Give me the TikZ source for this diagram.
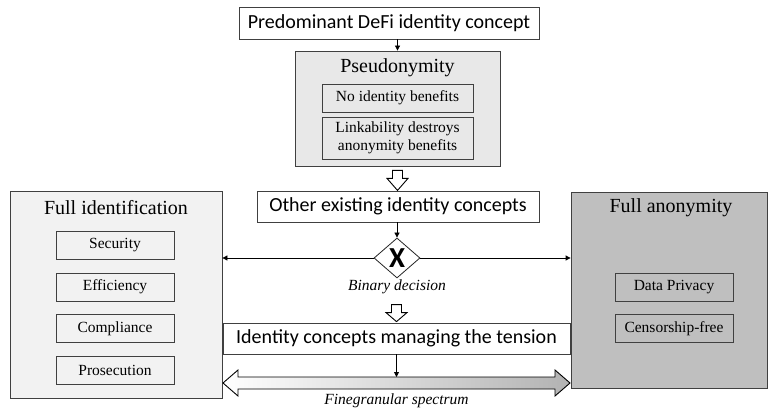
\documentclass[tikz,border=0pt]{standalone}
\usepackage{fontspec}
\setmainfont{Liberation Serif}
\newfontfamily\calibri{Carlito}
\usetikzlibrary{arrows.meta,positioning,shapes.geometric,calc}

\begin{document}
\begin{tikzpicture}[x=1pt, y=-1pt,
  concept/.style={draw=black!75, line width=0.8pt, fill=white, inner sep=0pt, font=\calibri\fontsize{20}{22}\selectfont},
  panel/.style={draw=black!75, line width=0.8pt, inner sep=0pt},
  item/.style={draw=black!75, line width=0.8pt, inner sep=0pt, minimum width=118pt, minimum height=28pt, align=center, font=\fontsize{15.5}{18}\selectfont},
  paneltitle/.style={font=\fontsize{20}{22}\selectfont},
  note/.style={font=\itshape\fontsize{15.5}{17}\selectfont},
  link/.style={-{Triangle[length=5pt,width=5pt]}, line width=0.8pt},
  hollow/.style={draw=black, line width=0.9pt, fill=white, line join=miter}
]
  \useasboundingbox (0,0) rectangle (768,411);

  % Side panels
  \node[panel, fill=black!5, minimum width=212pt, minimum height=207pt] (fullid) at (116,294.5) {};
  \node[paneltitle] (fullidtitle) at (116,208) {Full identification};
  \node[item] (security) at (115,245) {Security};
  \node[item] (efficiency) at (115,287) {Efficiency};
  \node[item] (compliance) at (115,328.5) {Compliance};
  \node[item] (prosecution) at (115,370) {Prosecution};

  \node[panel, fill=black!25, minimum width=196pt, minimum height=196pt] (fullanon) at (669,290) {};
  \node[paneltitle] (fullanontitle) at (671,208) {Full anonymity};
  \node[item, fill=black!25] (privacy) at (674,287) {Data Privacy};
  \node[item, fill=black!25] (censor) at (674,328.5) {Censorship-free};

  % Predominant concept
  \node[concept, minimum width=300pt, minimum height=32pt] (predom) at (389,23) {Predominant DeFi identity concept};
  \node[panel, fill=black!9, minimum width=205pt, minimum height=115pt] (pseudo) at (397.5,108.5) {};
  \node[paneltitle] (pseudotitle) at (397.5,68) {Pseudonymity};
  \node[item, minimum width=151pt] (nobenefit) at (397.5,98) {No identity benefits};
  \node[item, minimum width=151pt, minimum height=42pt] (linkable) at (397.5,138) {Linkability destroys\\anonymity benefits};

  % Other concepts and decision
  \node[concept, minimum width=282pt, minimum height=31pt] (other) at (398,206.5) {Other existing identity concepts};
  \node[diamond, draw=black!85, fill=white, line width=0.8pt, minimum width=46pt, minimum height=40pt, inner sep=0pt, font=\calibri\bfseries\fontsize{29}{30}\selectfont] (binary) at (397,258) {X};
  \node[note] (binarylabel) at (397,287) {Binary decision};

  \node[concept, minimum width=347pt, minimum height=31pt] (tension) at (396.5,338.5) {Identity concepts managing the tension};
  \node[note] (spectrumlabel) at (396.5,401) {Finegranular spectrum};

  % Connectors
  \draw[link] (pseudo.north |- predom.south) -- (pseudo.north);
  \draw[link] (other.south -| binary.north) -- (binary.north);
  \draw[link] (binary.west) -- (binary.west -| fullid.east);
  \draw[link] (binary.east) -- (binary.east -| fullanon.west);

  \draw[hollow] (pseudo.south) ++(-5,4) -- ++(10,0) -- ++(0,8) -- ++(5.5,0) -- ++(-10.5,12) -- ++(-10.5,-12) -- ++(5.5,0) -- cycle;
  \draw[hollow] (tension.north) ++(0,-1) -- ++(10.5,-9) -- ++(-5.5,0) -- ++(0,-8) -- ++(-10,0) -- ++(0,8) -- ++(-5.5,0) -- cycle;

  % Spectrum
  \coordinate (specL) at (223,383);
  \coordinate (specR) at (570,383);
  \coordinate (specmid) at ($(specL)!0.5!(specR)+(0,-6)$);
  \shadedraw[left color=white, right color=black!30, draw=black, line width=0.9pt, line join=miter]
    (specL) -- ++(15,-13) -- ++(0,7) -- ($(specR)+(-15,-6)$) -- ++(0,-7) -- (specR)
    -- ++(-15,13) -- ++(0,-7) -- ($(specL)+(15,6)$) -- ++(0,7) -- cycle;
  \draw[link] (tension.south) -- (tension.south |- specmid);
\end{tikzpicture}
\end{document}
